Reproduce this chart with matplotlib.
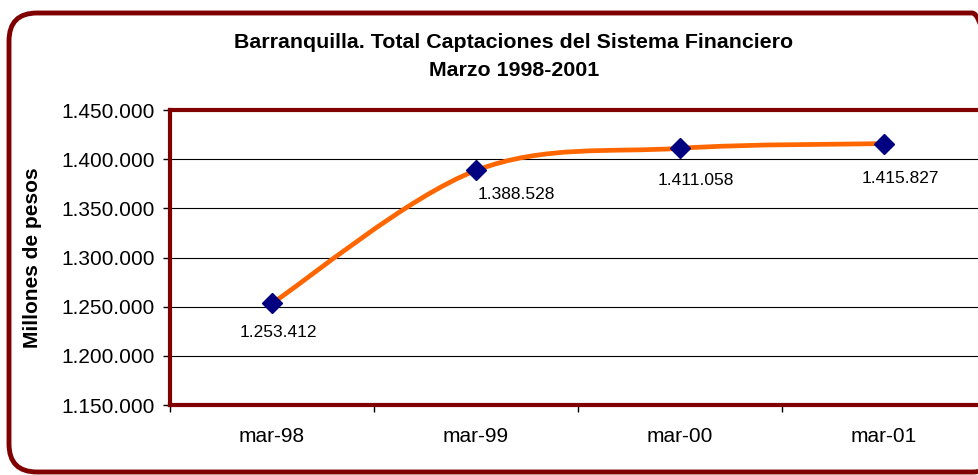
import numpy as np
import matplotlib
matplotlib.use("Agg")
import matplotlib.pyplot as plt
from matplotlib.path import Path
from matplotlib.patches import PathPatch, FancyBboxPatch
from matplotlib.transforms import IdentityTransform

# data
categories = ["mar-98", "mar-99", "mar-00", "mar-01"]
captaciones = [1253412, 1388528, 1411058, 1415827]
point_labels = ["1.253.412", "1.388.528", "1.411.058", "1.415.827"]
y_ticks = [1150000, 1200000, 1250000, 1300000, 1350000, 1400000, 1450000]

# label offsets in pixels (layout only)
label_offsets = [(6, -29), (40, -24), (16, -32), (16, -35)]

plt.rcParams['font.family'] = ['Liberation Sans', 'DejaVu Sans']

fig = plt.figure(figsize=(9.79, 4.75), dpi=100)
ax = fig.add_axes([170 / 979, 1 - 405 / 475, 816 / 979, 295 / 475])

x = np.arange(len(categories))
y = np.array(captaciones, dtype=float)

# smoothed line (Excel style bezier through the points)
pts = np.column_stack([x, y])
verts = [pts[0]]
codes = [Path.MOVETO]
n = len(pts)
for i in range(n - 1):
    p_prev = pts[max(i - 1, 0)]
    p0 = pts[i]
    p1 = pts[i + 1]
    p_next = pts[min(i + 2, n - 1)]
    c1 = p0 + (p1 - p_prev) / 6.0
    c2 = p1 - (p_next - p0) / 6.0
    verts += [c1, c2, p1]
    codes += [Path.CURVE4] * 3
curve = PathPatch(Path(verts, codes), fill=False, edgecolor='#FF6600',
                  lw=3.4, transform=ax.transData, zorder=3, capstyle='round')
ax.add_patch(curve)

ax.plot(x, y, linestyle='none', marker='D', markersize=10,
        color='#000080', zorder=4)

for xi, yi, lab, off in zip(x, y, point_labels, label_offsets):
    ax.annotate(lab, (xi, yi), xytext=off, textcoords='offset pixels',
                ha='center', va='center', fontsize=12.5, color='black')

ax.set_xlim(-0.5, 3.5)
ax.set_ylim(1150000, 1450000)
ax.set_yticks(y_ticks)
ax.set_yticklabels([f"{v:,.0f}".replace(',', '.') for v in y_ticks])
ax.tick_params(axis='y', labelsize=15, length=5, width=1, color='black',
               direction='out', pad=6)

ax.set_xticks([-0.5, 0.5, 1.5, 2.5, 3.5])
ax.set_xticklabels([])
ax.set_xticks(x, minor=True)
ax.set_xticklabels(categories, minor=True)
ax.tick_params(axis='x', which='major', length=5, width=1, color='black',
               direction='out')
ax.tick_params(axis='x', which='minor', length=0, labelsize=15, pad=16)

ax.yaxis.grid(True, color='black', lw=0.8)
ax.set_axisbelow(True)
for s in ax.spines.values():
    s.set_color('#800000')
    s.set_linewidth(3)

ax.set_ylabel("Millones de pesos", fontsize=15, fontweight='bold')
ax.yaxis.set_label_coords(-0.157, 0.5)

fig.text(514 / 979, 1 - 42 / 475,
         "Barranquilla. Total Captaciones del Sistema Financiero",
         ha='center', va='center', fontsize=15.4, fontweight='bold')
fig.text(514 / 979, 1 - 70 / 475, "Marzo 1998-2001",
         ha='center', va='center', fontsize=15.4, fontweight='bold')

frame = FancyBboxPatch((9, 3), 991, 459,
                       boxstyle="round,pad=0,rounding_size=28",
                       transform=IdentityTransform(), fill=False,
                       edgecolor='#800000', lw=3.5)
fig.add_artist(frame)

fig.savefig("out.png", dpi=100, facecolor='white')
